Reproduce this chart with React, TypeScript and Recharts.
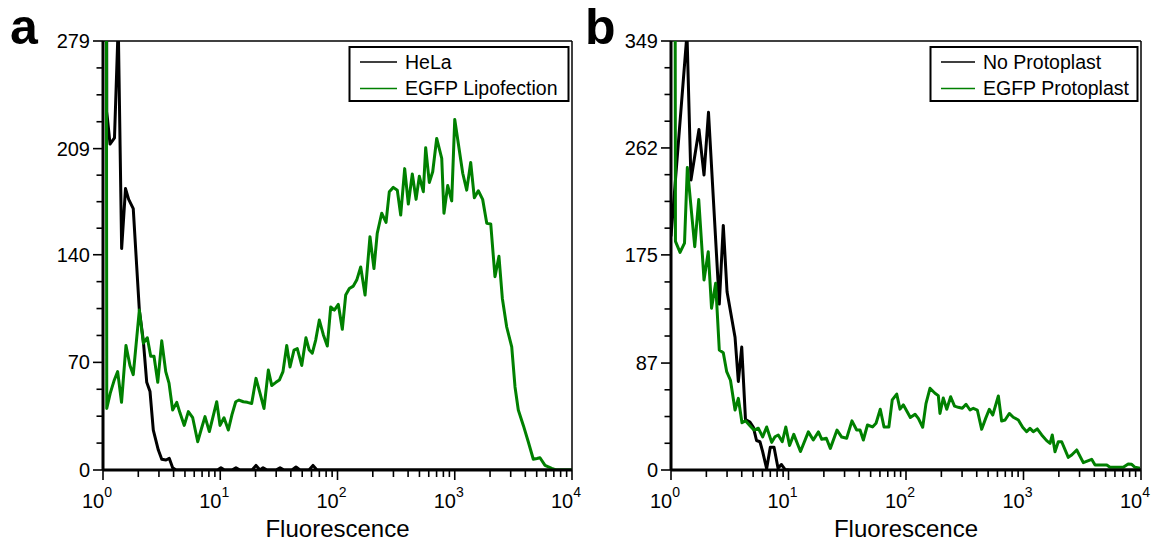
import { LineChart, Line, XAxis, YAxis, ReferenceLine } from 'recharts';

const FONT = "'Liberation Sans', Arial, Helvetica, sans-serif";
const GREEN = '#008000';

// x positions are in decades (log10 of fluorescence), values are event counts
const helaPos = [0, 0.032, 0.06, 0.098, 0.13, 0.159, 0.192, 0.219, 0.258, 0.287, 0.31, 0.344, 0.373, 0.401, 0.429, 0.472, 0.501, 0.537, 0.565, 0.594, 0.623, 0.977, 1.006, 1.036, 1.1, 1.134, 1.168, 1.271, 1.305, 1.339, 1.365, 1.399, 1.475, 1.51, 1.544, 1.612, 1.646, 1.68, 1.757, 1.791, 1.825, 4.0];
const helaCounts = [3000, 233, 212, 216, 290, 144, 183, 176, 170, 133, 104, 84, 57, 51, 26, 13, 7, 6.5, 7.6, 1.5, 0, 0, 1.5, 0, 0, 1.5, 0, 0, 3, 0, 1.5, 0, 0, 1.5, 0, 0, 2, 0, 0, 3, 0, 0];

const lipoPos = [0, 0.032, 0.062, 0.094, 0.125, 0.158, 0.196, 0.23, 0.258, 0.31, 0.344, 0.378, 0.407, 0.435, 0.467, 0.501, 0.535, 0.563, 0.594, 0.629, 0.657, 0.693, 0.728, 0.765, 0.808, 0.84, 0.87, 0.907, 0.97, 0.998, 1.032, 1.069, 1.1, 1.132, 1.16, 1.197, 1.231, 1.268, 1.305, 1.339, 1.373, 1.41, 1.439, 1.475, 1.504, 1.535, 1.567, 1.595, 1.629, 1.657, 1.695, 1.731, 1.759, 1.785, 1.814, 1.845, 1.879, 1.913, 1.942, 1.973, 2.007, 2.041, 2.07, 2.101, 2.135, 2.164, 2.198, 2.235, 2.277, 2.311, 2.339, 2.377, 2.414, 2.442, 2.476, 2.51, 2.539, 2.573, 2.604, 2.638, 2.67, 2.698, 2.732, 2.752, 2.783, 2.812, 2.846, 2.889, 2.908, 2.94, 2.974, 3.0, 3.068, 3.102, 3.136, 3.167, 3.201, 3.238, 3.273, 3.307, 3.343, 3.377, 3.406, 3.443, 3.486, 3.514, 3.542, 3.585, 3.627, 3.67, 3.701, 3.727, 3.77, 3.827, 3.864, 4.0];
const lipoCounts = [3000, 40, 50, 58, 64, 44, 81, 68, 62, 104, 82.5, 86, 74, 74, 57, 84, 64, 56.5, 39, 44, 37, 29, 38, 34, 18.4, 27, 34.7, 25, 44.4, 29, 34, 26, 36, 44.4, 45.5, 44.4, 44, 43.3, 59.6, 50, 40, 65, 55, 57, 58.5, 64, 81, 67, 78, 79, 68, 86, 78, 76, 84.5, 97.5, 88, 80.6, 106, 104, 107.7, 91.5, 113.8, 118, 119.6, 123.5, 132, 113.8, 151.7, 131, 154, 167, 161, 181, 183.8, 182, 165.8, 196, 173, 192.5, 176, 191, 181, 209.6, 187, 194, 215.6, 202.7, 167, 185, 175, 228, 193, 182, 200, 177, 181.6, 176, 160.4, 160, 125.7, 139, 111.6, 93, 80, 54, 39, 29, 18.4, 7, 7.5, 8, 3, 1, 0, 0];

const noProtoPos = [0, 0.136, 0.17, 0.238, 0.281, 0.319, 0.411, 0.445, 0.477, 0.545, 0.573, 0.602, 0.634, 0.672, 0.7, 0.728, 0.757, 0.78, 0.814, 0.845, 0.877, 0.911, 0.939, 0.97, 1.013, 4.0];
const noProtoCounts = [190, 355, 236, 277, 240, 291, 135, 199, 145, 108, 72, 100, 41, 39, 35, 24, 23, 15, 1, 18.5, 18.5, 1.4, 4.5, 0.5, 0, 0];

const protoPos = [0, 0.038, 0.077, 0.115, 0.139, 0.202, 0.236, 0.281, 0.317, 0.345, 0.38, 0.411, 0.445, 0.474, 0.506, 0.545, 0.573, 0.604, 0.634, 0.672, 0.706, 0.743, 0.78, 0.814, 0.857, 0.885, 0.913, 0.947, 0.977, 1.009, 1.045, 1.102, 1.169, 1.211, 1.255, 1.283, 1.322, 1.356, 1.413, 1.453, 1.495, 1.54, 1.58, 1.609, 1.637, 1.672, 1.715, 1.745, 1.781, 1.813, 1.854, 1.883, 1.921, 1.949, 1.977, 2.037, 2.077, 2.105, 2.142, 2.17, 2.204, 2.247, 2.275, 2.289, 2.317, 2.347, 2.38, 2.413, 2.445, 2.479, 2.511, 2.545, 2.573, 2.607, 2.644, 2.678, 2.709, 2.738, 2.786, 2.814, 2.843, 2.879, 2.913, 2.956, 2.993, 3.027, 3.055, 3.083, 3.117, 3.155, 3.197, 3.226, 3.245, 3.268, 3.296, 3.325, 3.381, 3.41, 3.453, 3.509, 3.58, 3.609, 3.709, 3.736, 3.849, 3.891, 3.921, 3.949, 3.991];
const protoCounts = [3000, 186, 177, 184.5, 246, 181.7, 220, 154.6, 177.6, 131.6, 152, 97.6, 95.4, 80, 73, 48.8, 58.3, 38.5, 40, 36, 32.5, 34, 27, 35, 22.5, 27, 28.5, 23, 35, 20, 29, 15, 31, 24.4, 31, 25, 25.8, 17.6, 32.5, 26.8, 25.8, 40, 32.5, 32.5, 24.4, 36.6, 35, 38, 49.4, 35, 35, 57, 61.8, 49.5, 53, 42.7, 45.3, 42, 34.8, 54, 66.5, 62.4, 60.5, 46, 58.6, 49.4, 59.6, 52, 51, 50.2, 53.5, 48.8, 50.2, 48.8, 33.1, 42, 49.4, 44.7, 60.2, 39.9, 40.7, 46, 42.9, 40.7, 34.7, 31.2, 33.9, 31.2, 33.4, 28.5, 23.9, 21.7, 28.5, 14.9, 23, 23, 10.3, 12.2, 16.3, 6, 8.7, 4, 4, 2.2, 2.2, 4.9, 4.6, 2.2, 1.4];

// axis ticks
const xMajor = [1, 10, 100, 1000, 10000];
const xExp = ['0', '1', '2', '3', '4'];
const yMajorA = [0, 70, 140, 209, 279];
const yMajorB = [0, 87, 175, 262, 349];

const toPoints = (pos: number[], counts: number[]) => pos.map((p, i) => ({ x: 10 ** p, y: counts[i] }));

// minor ticks at 2..9 of every decade
const xTicks = xMajor.flatMap((m, i) =>
  i === xMajor.length - 1 ? [m] : [1, 2, 3, 4, 5, 6, 7, 8, 9].map((k) => k * m)
);

// three minor ticks between each pair of labelled ticks
function yTicksFrom(major: number[]) {
  const out: number[] = [];
  major.forEach((v, i) => {
    out.push(v);
    if (i < major.length - 1) {
      for (let q = 1; q < 4; q++) out.push(v + ((major[i + 1] - v) * q) / 4);
    }
  });
  return out;
}

function XTick(props: any) {
  const { x, y, payload } = props;
  const idx = xMajor.indexOf(payload.value);
  const major = idx >= 0;
  return (
    <g>
      <line x1={x} x2={x} y1={y} y2={y + (major ? 10 : 7)} stroke="#000" strokeWidth={1.6} />
      {major && (
        <text x={x - 6} y={y + 38} textAnchor="middle" fontSize={20} fontFamily={FONT} fill="#000">
          10
          <tspan dy={-11} fontSize={14}>{xExp[idx]}</tspan>
        </text>
      )}
    </g>
  );
}

function makeYTick(majors: number[]) {
  return (props: any) => {
    const { x, y, payload } = props;
    const major = majors.includes(payload.value);
    return (
      <g>
        <line x1={x - (major ? 10 : 6.5)} x2={x} y1={y} y2={y} stroke="#000" strokeWidth={1.6} />
        {major && (
          <text x={x - 13} y={y} dy={7} textAnchor="end" fontSize={20} fontFamily={FONT} fill="#000">
            {Math.round(payload.value)}
          </text>
        )}
      </g>
    );
  };
}

interface Series {
  data: { x: number; y: number }[];
  color: string;
}

interface PanelProps {
  width: number;
  yAxisWidth: number;
  marginRight: number;
  yMajor: number[];
  series: Series[];
}

function Panel({ width, yAxisWidth, marginRight, yMajor, series }: PanelProps) {
  const yMax = yMajor[yMajor.length - 1];
  return (
    <LineChart width={width} height={546} margin={{ top: 41, right: marginRight, bottom: 0, left: 0 }}>
      <XAxis
        type="number"
        dataKey="x"
        scale="log"
        domain={[1, 10000]}
        ticks={xTicks}
        interval={0}
        allowDataOverflow
        height={76}
        axisLine={{ stroke: '#000', strokeWidth: 3 }}
        tickLine={false}
        tickSize={0}
        tickMargin={0}
        tick={XTick}
        label={{ value: 'Fluorescence', position: 'insideBottom', offset: 9, fontSize: 24, fill: '#000', fontFamily: FONT }}
      />
      <YAxis
        type="number"
        domain={[0, yMax]}
        ticks={yTicksFrom(yMajor)}
        interval={0}
        allowDataOverflow
        width={yAxisWidth}
        axisLine={{ stroke: '#000', strokeWidth: 3 }}
        tickLine={false}
        tickSize={0}
        tickMargin={0}
        tick={makeYTick(yMajor)}
      />
      <ReferenceLine y={yMax} stroke="#000" strokeWidth={1.5} />
      <ReferenceLine x={10000} stroke="#000" strokeWidth={1.5} />
      {series.map((s, i) => (
        <Line
          key={i}
          data={s.data}
          dataKey="y"
          type="linear"
          dot={false}
          stroke={s.color}
          strokeWidth={3}
          strokeLinejoin="round"
          isAnimationActive={false}
        />
      ))}
    </LineChart>
  );
}

export default function App() {
  return (
    <div style={{ position: 'absolute', left: 0, top: 0, width: 1153, height: 546, background: '#fff', fontFamily: FONT }}>
      <div style={{ position: 'absolute', left: 0, top: 0 }}>
        <Panel
          width={600}
          yAxisWidth={103}
          marginRight={28}
          yMajor={yMajorA}
          series={[
            { data: toPoints(helaPos, helaCounts), color: '#000' },
            { data: toPoints(lipoPos, lipoCounts), color: GREEN },
          ]}
        />
      </div>
      <div style={{ position: 'absolute', left: 576, top: 0 }}>
        <Panel
          width={577}
          yAxisWidth={95}
          marginRight={12}
          yMajor={yMajorB}
          series={[
            { data: toPoints(noProtoPos, noProtoCounts), color: '#000' },
            { data: toPoints(protoPos, protoCounts), color: GREEN },
          ]}
        />
      </div>
      <svg
        width={1153}
        height={546}
        style={{ position: 'absolute', left: 0, top: 0, pointerEvents: 'none' }}
        fontFamily={FONT}
      >
        <text x={10} y={44} fontSize={50} fontWeight="bold" fill="#000">a</text>
        <text x={585} y={44} fontSize={50} fontWeight="bold" fill="#000">b</text>

        <rect x={349.5} y={47} width={219} height={54} fill="#fff" stroke="#000" strokeWidth={2} />
        <line x1={360} x2={397} y1={62} y2={62} stroke="#000" strokeWidth={1.5} />
        <text x={405} y={68.5} fontSize={19.5} fill="#000">HeLa</text>
        <line x1={360} x2={397} y1={88.5} y2={88.5} stroke={GREEN} strokeWidth={1.5} />
        <text x={405} y={95} fontSize={19.5} fill="#000">EGFP Lipofection</text>

        <rect x={930.5} y={47} width={207} height={54} fill="#fff" stroke="#000" strokeWidth={2} />
        <line x1={941} x2={975} y1={62} y2={62} stroke="#000" strokeWidth={1.5} />
        <text x={983} y={68.5} fontSize={19.5} fill="#000">No Protoplast</text>
        <line x1={941} x2={975} y1={88.5} y2={88.5} stroke={GREEN} strokeWidth={1.5} />
        <text x={983} y={95} fontSize={19.5} fill="#000">EGFP Protoplast</text>
      </svg>
    </div>
  );
}
